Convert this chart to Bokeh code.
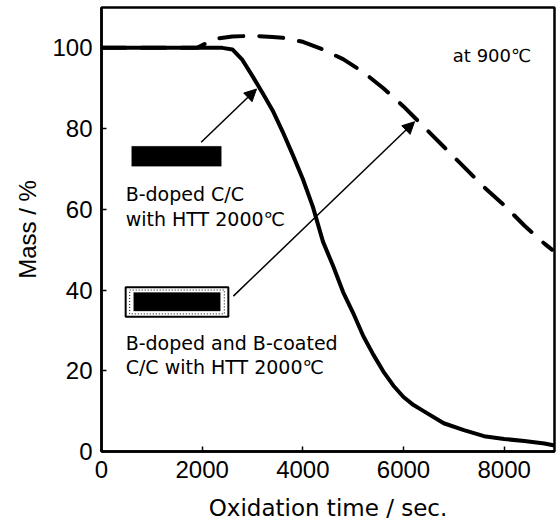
from bokeh.plotting import figure
from bokeh.models import Label, Arrow, NormalHead, BoxAnnotation, FixedTicker
from bokeh.embed import file_html
from bokeh.resources import INLINE

# B-doped C/C with HTT 2000 C (solid)
t_doped = [0, 1000, 2000, 2400, 2600, 2800, 3000, 3200, 3400, 3600, 3800, 4000,
           4200, 4400, 4600, 4800, 5000, 5200, 5400, 5600, 5800, 6000, 6200,
           6400, 6800, 7200, 7600, 8000, 8400, 8800, 9000]
m_doped = [100, 100, 100, 100, 99.6, 97, 93, 88.8, 84.5, 79.2, 73.5, 67.5,
           60.6, 52, 46, 39.5, 34.3, 28.6, 24, 19.8, 16.3, 13.5, 11.5,
           10, 7, 5.3, 3.8, 3.1, 2.6, 2.0, 1.5]

# B-doped and B-coated C/C with HTT 2000 C (dashed)
t_coated = [0, 1000, 1900, 2100, 2300, 2600, 3000, 3400, 3600, 4000, 4400, 4800,
            5200, 5600, 6000, 6400, 6800, 7200, 7600, 8000, 8400, 8800, 8950]
m_coated = [100, 100, 100, 101.3, 102.3, 102.8, 103, 102.7, 102.5, 101.5, 99.6, 97.2,
            94, 90, 85.5, 80.5, 75.5, 70.5, 65.5, 61, 56, 51.5, 50]

x_ticks = [0, 2000, 4000, 6000, 8000]
y_ticks = [0, 20, 40, 60, 80, 100]

p = figure(width=557, height=523, x_range=(0, 9000), y_range=(0, 110),
           output_backend="svg", toolbar_location=None,
           min_border_left=101, min_border_right=3, min_border_top=7,
           min_border_bottom=68)

p.xgrid.visible = False
p.ygrid.visible = False
p.outline_line_color = "black"
p.outline_line_width = 2.5
p.outline_line_alpha = 1.0
p.background_fill_color = "white"
p.border_fill_color = "white"

p.xaxis.ticker = FixedTicker(ticks=x_ticks)
p.yaxis.ticker = FixedTicker(ticks=y_ticks)
for ax in (p.xaxis, p.yaxis):
    ax.axis_line_width = 2.5
    ax.axis_line_color = "black"
    ax.major_tick_in = 5
    ax.major_tick_out = 0
    ax.major_tick_line_width = 1.5
    ax.major_tick_line_color = "black"
    ax.minor_tick_line_color = None
    ax.major_label_text_font = "Liberation Sans"
    ax.major_label_text_font_size = "24px"
    ax.major_label_text_color = "black"
    ax.axis_label_text_font_style = "normal"
    ax.axis_label_text_color = "black"

p.xaxis.major_label_standoff = 9
p.yaxis.major_label_standoff = 9
p.xaxis.axis_label = "Oxidation time / sec."
p.xaxis.axis_label_text_font = "DejaVu Sans"
p.xaxis.axis_label_text_font_size = "23px"
p.xaxis.axis_label_standoff = 14
p.yaxis.axis_label = "Mass / %"
p.yaxis.axis_label_text_font = "Liberation Sans"
p.yaxis.axis_label_text_font_size = "24px"
p.yaxis.axis_label_standoff = 8

p.line(t_doped, m_doped, line_color="black", line_width=4, line_join="round")
p.line(t_coated, m_coated, line_color="black", line_width=4,
       line_dash="24 16", line_cap="round", line_join="round")

# sample swatches
p.add_layout(BoxAnnotation(left=600, right=2380, bottom=70.7, top=75.6,
                           fill_color="black", fill_alpha=1.0, line_color="black"))
p.add_layout(BoxAnnotation(left=480, right=2520, bottom=33.4, top=40.7,
                           fill_color="white", fill_alpha=1.0,
                           line_color="black", line_alpha=1.0, line_width=2))
p.add_layout(BoxAnnotation(left=560, right=2440, bottom=34.1, top=40.0,
                           fill_alpha=0.0, line_color="black", line_alpha=1.0,
                           line_width=1, line_dash="1 2"))
p.add_layout(BoxAnnotation(left=640, right=2360, bottom=34.8, top=39.4,
                           fill_color="black", fill_alpha=1.0, line_color="black"))

# arrows
p.add_layout(Arrow(end=NormalHead(size=12, fill_color="black", line_color="black"),
                   x_start=1980, y_start=76.6, x_end=3080, y_end=89.8,
                   line_width=1.5, line_color="black"))
p.add_layout(Arrow(end=NormalHead(size=12, fill_color="black", line_color="black"),
                   x_start=2620, y_start=38.5, x_end=6220, y_end=81.7,
                   line_width=1.5, line_color="black"))

def lab(x, y, txt):
    p.add_layout(Label(x=x, y=y, text=txt, text_font="DejaVu Sans",
                       text_font_size="19px", text_color="black",
                       text_baseline="alphabetic", text_align="left"))

lab(480, 63.8, "B-doped C/C")
lab(480, 57.7, "with HTT 2000\u2103")
lab(480, 27.0, "B-doped and B-coated")
lab(480, 20.9, "C/C with HTT 2000\u2103")
p.add_layout(Label(x=6980, y=98.2, text="at 900\u2103", text_font="DejaVu Sans",
                   text_font_size="18px", text_color="black",
                   text_baseline="alphabetic", text_align="left"))

open("out.html", "w").write(file_html(p, INLINE))
